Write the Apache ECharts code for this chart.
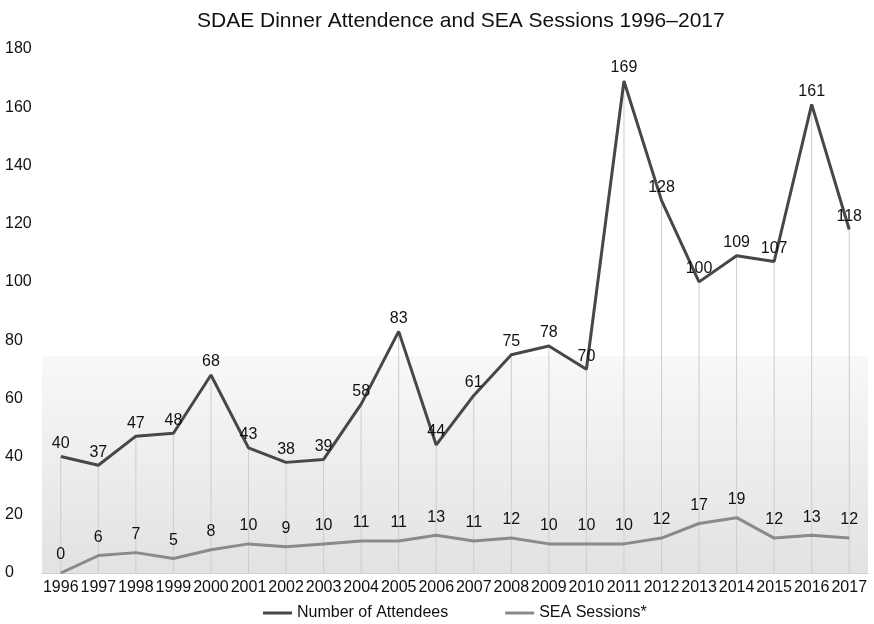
<!DOCTYPE html>
<html>
<head>
<meta charset="utf-8">
<script src="https://cdn.jsdelivr.net/npm/echarts@6/dist/echarts.min.js"></script>
<style>html,body{margin:0;padding:0;background:#fff}#c{width:874px;height:624px}</style>
</head>
<body>
<div id="c"></div>
<script>
const years = ['1996','1997','1998','1999','2000','2001','2002','2003','2004','2005','2006','2007','2008','2009','2010','2011','2012','2013','2014','2015','2016','2017'];
const attendees = [40,37,47,48,68,43,38,39,58,83,44,61,75,78,70,169,128,100,109,107,161,118];
const seaSessions = [0,6,7,5,8,10,9,10,11,11,13,11,12,10,10,10,12,17,19,12,13,12];
const yTicks = {min:0, max:180, interval:20};
const titleText = 'SDAE Dinner Attendence and SEA Sessions 1996\u20132017';
const seriesNames = ['Number of Attendees','SEA Sessions*'];

const font = 'Helvetica, "Liberation Sans", Arial, sans-serif';
const chart = echarts.init(document.getElementById('c'), null, {renderer:'canvas'});
chart.setOption({
  animation:false,
  backgroundColor:'#fff',
  title:{text:titleText,left:192,top:6,textStyle:{fontFamily:font,fontSize:21,fontWeight:'normal',color:'#111'}},
  legend:{
    data:seriesNames.map(n=>({name:n,icon:'rect'})),
    left:258, top:600, itemWidth:29, itemHeight:3, itemGap:57,
    textStyle:{fontFamily:font,fontSize:16,color:'#111'}
  },
  grid:{left:42,right:6,top:49,bottom:51,containLabel:false},
  xAxis:{
    type:'category', data:years, boundaryGap:true,
    axisLine:{show:true,lineStyle:{color:'#cfcfcf',width:1}},
    axisTick:{show:false},
    axisLabel:{interval:0,margin:7,fontFamily:font,fontSize:16,color:'#111'},
    splitLine:{show:false}
  },
  yAxis:{
    type:'value', min:yTicks.min, max:yTicks.max, interval:yTicks.interval,
    axisLine:{show:false}, axisTick:{show:false}, splitLine:{show:false},
    axisLabel:{align:'left',margin:37,fontFamily:font,fontSize:16,color:'#111'}
  },
  series:[
    {
      name:'drop', type:'bar', data:attendees, barWidth:1, silent:true, z:1,
      itemStyle:{color:'#cdcdcd'},
      markArea:{silent:true,itemStyle:{color:{type:'linear',x:0,y:0,x2:0,y2:1,colorStops:[{offset:0,color:'#f8f8f8'},{offset:1,color:'#e2e2e2'}]}},
        data:[[{yAxis:74.5},{yAxis:0}]]}
    },
    {
      name:seriesNames[0], type:'line', data:attendees, showSymbol:true, symbol:'circle', symbolSize:0.01, z:3,
      lineStyle:{color:'#474747',width:3}, itemStyle:{color:'#474747'},
      label:{show:true,position:'top',distance:5,fontFamily:font,fontSize:16,color:'#111'}
    },
    {
      name:seriesNames[1], type:'line', data:seaSessions, showSymbol:true, symbol:'circle', symbolSize:0.01, z:3,
      lineStyle:{color:'#8a8a8a',width:3}, itemStyle:{color:'#8a8a8a'},
      label:{show:true,position:'top',distance:10,fontFamily:font,fontSize:16,color:'#111'}
    }
  ]
});
</script>
</body>
</html>
